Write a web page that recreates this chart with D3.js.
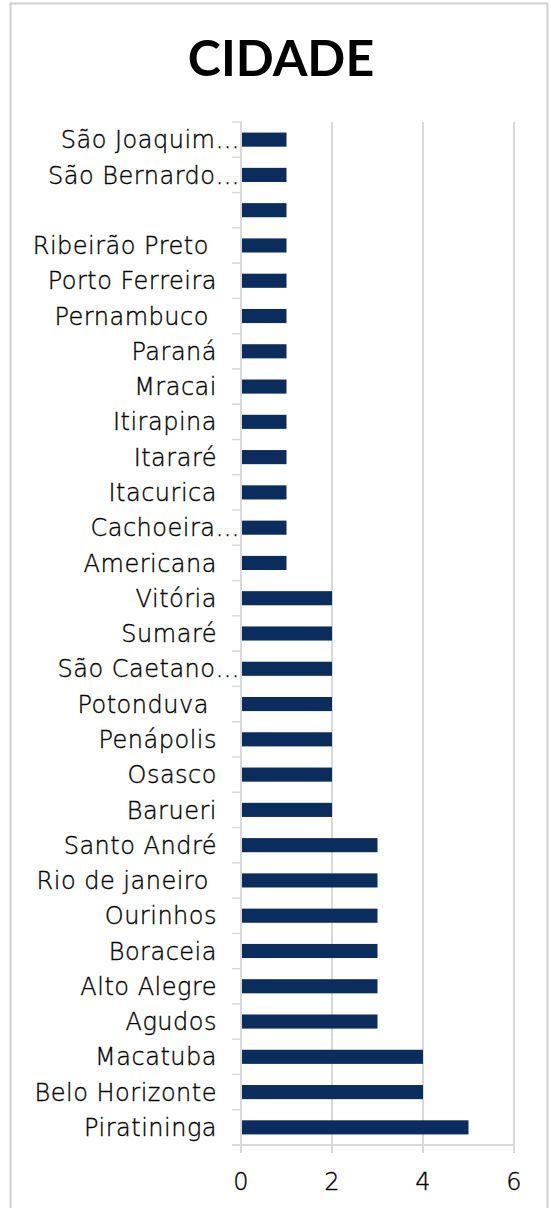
<!DOCTYPE html>
<html>
<head>
<meta charset="utf-8">
<script src="https://cdn.jsdelivr.net/npm/d3@7"></script>
<style>
body { margin: 0; background: #fff; }
text { font-family: "DejaVu Sans", sans-serif; fill: #000; }
</style>
</head>
<body>
<div id="chart"></div>
<script>
// city names, top to bottom as in the chart
var cities = ["São Joaquim…", "São Bernardo…", " ", "Ribeirão Preto ", "Porto Ferreira",
	"Pernambuco ", "Paraná", "Mracai", "Itirapina", "Itararé", "Itacurica", "Cachoeira…",
	"Americana", "Vitória", "Sumaré", "São Caetano…", "Potonduva ", "Penápolis", "Osasco",
	"Barueri", "Santo André", "Rio de janeiro ", "Ourinhos", "Boraceia", "Alto Alegre",
	"Agudos", "Macatuba", "Belo Horizonte", "Piratininga"];
var counts = [1, 1, 1, 1, 1, 1, 1, 1, 1, 1, 1, 1, 1, 2, 2, 2, 2, 2, 2, 2, 3, 3, 3, 3, 3, 3, 4, 4, 5];
var xTicks = [0, 2, 4, 6];

var w = 551, h = 1208;
var margin = {top: 122, right: 37, bottom: 63, left: 241};
var width = w - margin.left - margin.right;
var height = h - margin.top - margin.bottom;

var svg = d3.select("#chart").append("svg")
	.attr("width", w)
	.attr("height", h);

// outer chart border
svg.append("rect")
	.attr("x", 10.5).attr("y", 3.5)
	.attr("width", 537).attr("height", 1220)
	.attr("fill", "none")
	.attr("stroke", "#d0d0d0")
	.attr("stroke-width", 2);

svg.append("text")
	.attr("x", 281).attr("y", 76)
	.attr("text-anchor", "middle")
	.style("font-family", "'Lato', sans-serif")
	.style("font-weight", "bold")
	.style("font-size", "50px")
	.text("CIDADE");

var g = svg.append("g")
	.attr("transform", "translate(" + margin.left + "," + margin.top + ")");

var xS = d3.scaleLinear().domain([0, 6]).range([0, width]);
var yS = d3.scaleBand().domain(d3.range(cities.length)).range([0, height]).paddingInner(0.6).paddingOuter(0.3);
var yB = d3.scaleBand().domain(d3.range(cities.length)).range([0, height]);

// vertical gridlines
g.selectAll(".grid")
	.data(xTicks.slice(1))
	.enter().append("line")
	.attr("x1", function(d) { return xS(d); })
	.attr("x2", function(d) { return xS(d); })
	.attr("y1", 0).attr("y2", height)
	.attr("stroke", "#d9d9d9")
	.attr("stroke-width", 2);

// bars
g.selectAll(".bar")
	.data(counts)
	.enter().append("rect")
	.attr("x", xS(0))
	.attr("y", function(d, i) { return yS(i); })
	.attr("width", function(d) { return xS(d) - xS(0); })
	.attr("height", yS.bandwidth())
	.attr("fill", "#0a2d5e");

// y axis line and category ticks
g.append("line")
	.attr("x1", 0).attr("x2", 0)
	.attr("y1", 0).attr("y2", height)
	.attr("stroke", "#d9d9d9").attr("stroke-width", 2);

g.selectAll(".ytick")
	.data(d3.range(cities.length + 1))
	.enter().append("line")
	.attr("x1", -9).attr("x2", 0)
	.attr("y1", function(d) { return d * yB.step(); })
	.attr("y2", function(d) { return d * yB.step(); })
	.attr("stroke", "#d9d9d9").attr("stroke-width", 1.5);

// x axis line and ticks
g.append("line")
	.attr("x1", -9).attr("x2", width)
	.attr("y1", height).attr("y2", height)
	.attr("stroke", "#d9d9d9").attr("stroke-width", 2);

g.selectAll(".xtick")
	.data(xTicks)
	.enter().append("line")
	.attr("x1", function(d) { return xS(d); })
	.attr("x2", function(d) { return xS(d); })
	.attr("y1", height).attr("y2", height + 8)
	.attr("stroke", "#d9d9d9").attr("stroke-width", 2);

g.selectAll(".xlabel")
	.data(xTicks)
	.enter().append("text")
	.attr("x", function(d) { return xS(d); })
	.attr("y", height + 45)
	.attr("text-anchor", "middle")
	.style("font-size", "24px")
	.style("font-weight", "200")
	.style("stroke", "#000")
	.style("stroke-width", "0.35px")
	.text(function(d) { return d; });

// category labels
g.selectAll(".ylabel")
	.data(cities)
	.enter().append("text")
	.attr("x", function(d) { return /…$/.test(d) ? -1 : -24; })
	.attr("y", function(d, i) { return yB(i) + yB.bandwidth() / 2; })
	.attr("dy", "0.36em")
	.attr("text-anchor", "end")
	.style("font-size", "24px")
	.style("font-weight", "200")
	.style("letter-spacing", "0.5px")
	.style("stroke", "#000")
	.style("stroke-width", "0.35px")
	.style("white-space", "pre")
	.text(function(d) { return d; });
</script>
</body>
</html>
